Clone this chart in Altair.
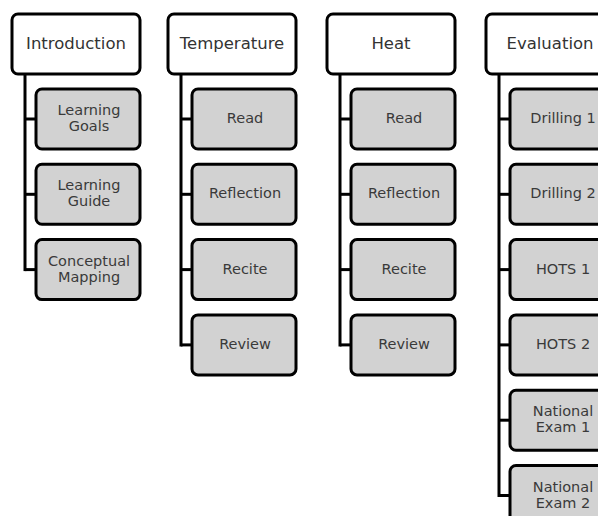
import altair as alt
import pandas as pd

headers = ["Introduction", "Temperature", "Heat", "Evaluation"]
children = [
    ["Learning\nGoals", "Learning\nGuide", "Conceptual\nMapping"],
    ["Read", "Reflection", "Recite", "Review"],
    ["Read", "Reflection", "Recite", "Review"],
    ["Drilling 1", "Drilling 2", "HOTS 1", "HOTS 2", "National\nExam 1", "National\nExam 2"],
]

# layout (pixels, chart coordinates = page - 8)
OFF = 8
col_left = [12, 168, 327, 486]
HEAD_W = 128
HEAD_TOP, HEAD_BOT = 14, 74
CHILD_IND = 24
LINE_IND = 13
CHILD_TOP0 = 89
CHILD_H = 60
CHILD_STEP = 75.3
LINE_H = 16

W, H = 590, 508

boxes = []
rules = []
for ci, (h, kids) in enumerate(zip(headers, children)):
    L = col_left[ci] - OFF
    R = L + HEAD_W
    boxes.append(dict(x=L, x2=R, y=HEAD_TOP - OFF, y2=HEAD_BOT - OFF,
                      kind="head", label=h, cx=(L + R) / 2, cy=(HEAD_TOP + HEAD_BOT) / 2 - OFF))
    lx = L + LINE_IND
    last_mid = None
    for k, lab in enumerate(kids):
        t = CHILD_TOP0 + k * CHILD_STEP - OFF
        b = t + CHILD_H
        cl = L + CHILD_IND
        mid = (t + b) / 2
        nlines = lab.count("\n") + 1
        boxes.append(dict(x=cl, x2=R, y=t, y2=b, kind="child", label=lab,
                          cx=(cl + R) / 2 + 1, cy=mid - (nlines - 1) * LINE_H / 2))
        rules.append(dict(x=lx, x2=cl, y=mid, y2=mid))
        last_mid = mid
    rules.append(dict(x=lx, x2=lx, y=HEAD_BOT - OFF, y2=last_mid + 1.5))

bdf = pd.DataFrame(boxes)
rdf = pd.DataFrame(rules)

xs = alt.Scale(domain=[0, W], range=[0, W])
ys = alt.Scale(domain=[0, H], range=[0, H])

rule_layer = alt.Chart(rdf).mark_rule(color="black", strokeWidth=3).encode(
    x=alt.X("x:Q", scale=xs, axis=None),
    x2="x2:Q",
    y=alt.Y("y:Q", scale=ys, axis=None),
    y2="y2:Q",
)

rect_layer = alt.Chart(bdf).mark_rect(
    stroke="black", strokeWidth=3, cornerRadius=6
).encode(
    x=alt.X("x:Q", scale=xs, axis=None),
    x2="x2:Q",
    y=alt.Y("y:Q", scale=ys, axis=None),
    y2="y2:Q",
    fill=alt.Fill("kind:N", scale=alt.Scale(domain=["head", "child"], range=["#ffffff", "#d2d2d2"]), legend=None),
)

head_text = alt.Chart(bdf[bdf.kind == "head"]).mark_text(
    font="DejaVu Sans", fontSize=16.5, color="#333333", align="center", baseline="middle"
).encode(
    x=alt.X("cx:Q", scale=xs, axis=None),
    y=alt.Y("cy:Q", scale=ys, axis=None),
    text="label:N",
)

child_text = alt.Chart(bdf[bdf.kind == "child"]).mark_text(
    font="DejaVu Sans", fontSize=14.5, color="#3a3a3a", align="center", baseline="middle",
    lineBreak="\n", lineHeight=LINE_H
).encode(
    x=alt.X("cx:Q", scale=xs, axis=None),
    y=alt.Y("cy:Q", scale=ys, axis=None),
    text="label:N",
)

chart = alt.layer(rule_layer, rect_layer, head_text, child_text).properties(
    width=W, height=H, padding=0, autosize=alt.AutoSizeParams(type="none")
).configure_view(stroke=None)

chart.save("out.html", embed_options={"renderer": "svg", "actions": False})
